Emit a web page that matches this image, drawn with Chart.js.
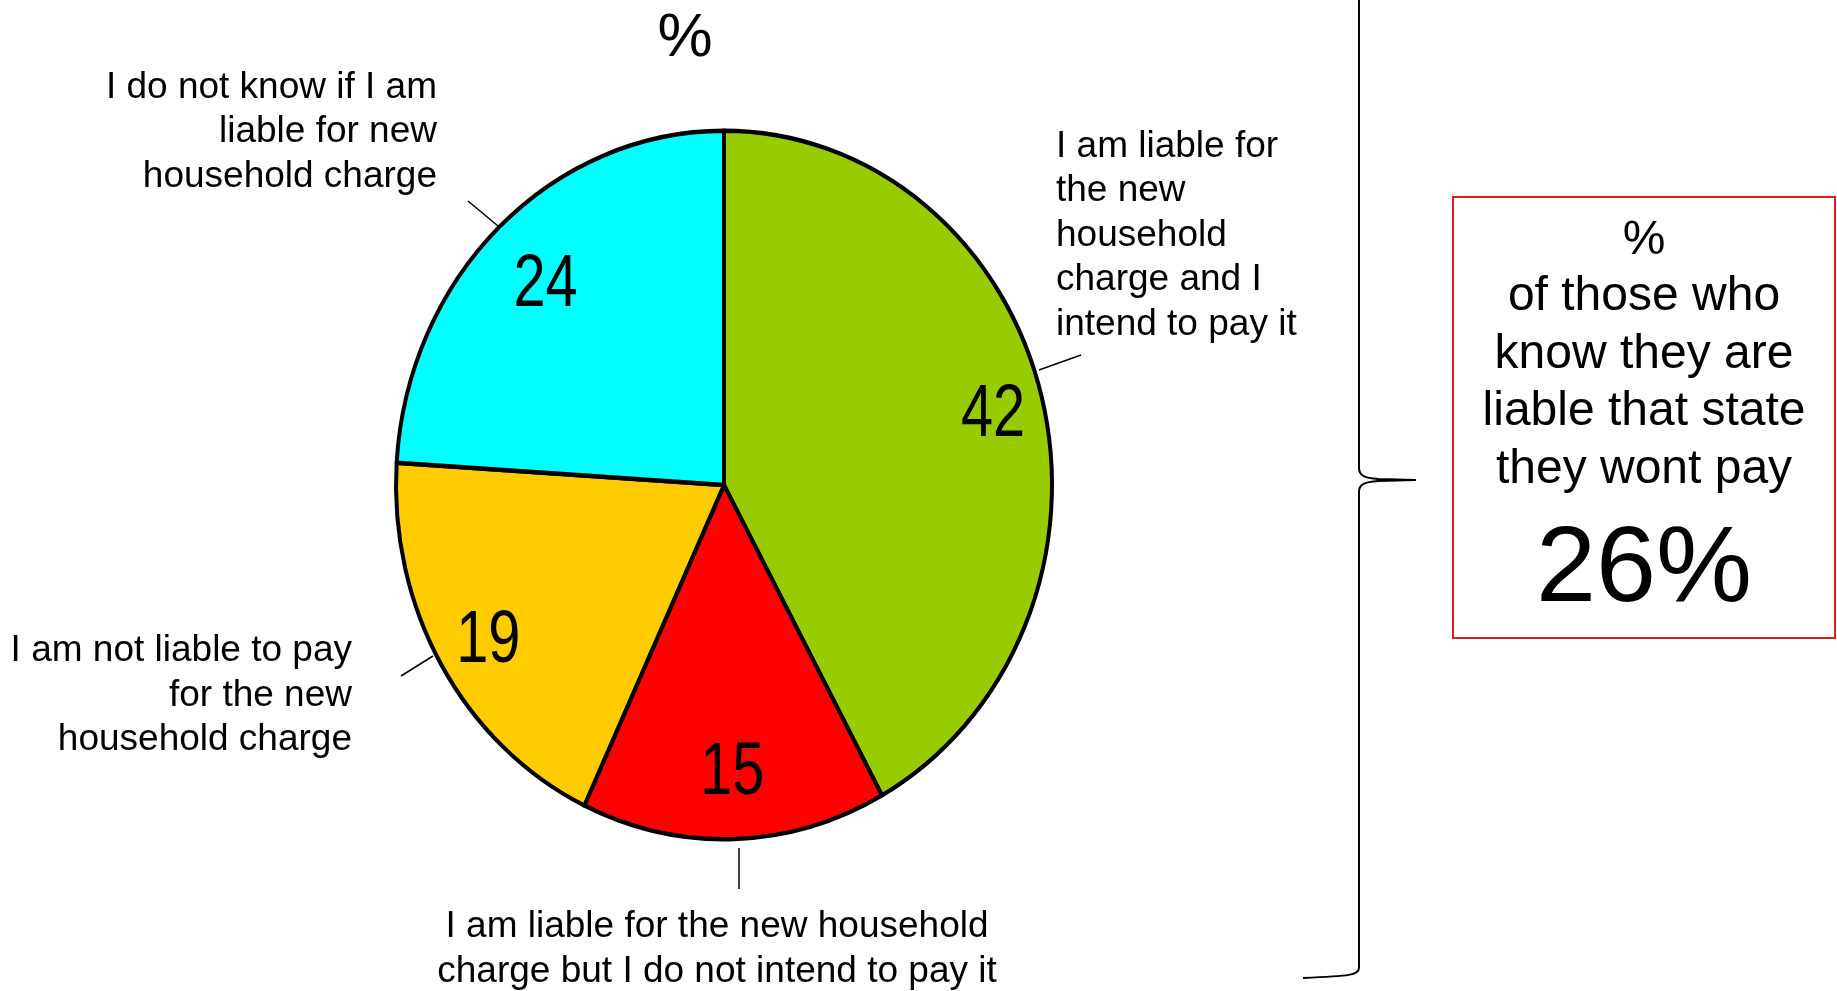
<!DOCTYPE html>
<html>
<head>
<meta charset="utf-8">
<script src="https://cdn.jsdelivr.net/npm/chart.js@4.4.0/dist/chart.umd.min.js"></script>
<style>
  html, body { margin: 0; padding: 0; background: #fff; }
  canvas { display: block; }
</style>
</head>
<body>
<canvas id="liabilityPie" width="1837" height="991"></canvas>
<script>
const categories = [
  "I am liable for the new household charge and I intend to pay it",
  "I am liable for the new household charge but I do not intend to pay it",
  "I am not liable to pay for the new household charge",
  "I do not know if I am liable for new household charge",
];
const shares = [42, 15, 19, 24];
const sliceColours = ["#99CC00", "#FF0000", "#FFCC00", "#00FFFF"];
// category text, wrapped the way the original slide wraps it
const labelLines = [
  ["I am liable for", "the new", "household", "charge and I", "intend to pay it"],
  ["I am liable for the new household", "charge but I do not intend to pay it"],
  ["I am not liable to pay", "for the new", "household charge"],
  ["I do not know if I am", "liable for new", "household charge"],
];
const boxLines = ["%", "of those who", "know they are", "liable that state", "they wont pay"];
const wontPayShare = 26;

const FONT = '"Liberation Sans", Arial, Helvetica, sans-serif';
const STRETCH_Y = 1.08; // the slide's pie is a bit taller than wide

// where the value sits inside each slice, as a fraction of the radius
const valueRadius = [0.847, 0.80, 0.835, 0.795];

// callout text blocks and their leader lines
const labelBlocks = [
  { x: 1056, y: 156.5, align: "left" },
  { x: 717, y: 937, align: "center" },
  { x: 352, y: 661, align: "right" },
  { x: 437, y: 97.5, align: "right" },
];
const leaders = [
  [[1039, 370], [1081, 355]],
  [[739, 848], [739, 889]],
  [[433, 656], [401, 676]],
  [[498, 226], [468, 201]],
];

const stretchPie = {
  id: "stretchPie",
  beforeDatasetsDraw(chart) {
    const arc = chart.getDatasetMeta(0).data[0];
    const ctx = chart.ctx;
    ctx.save();
    ctx.translate(arc.x, arc.y);
    ctx.scale(1, STRETCH_Y);
    ctx.translate(-arc.x, -arc.y);
  },
  afterDatasetsDraw(chart) {
    chart.ctx.restore();
  },
};

const annotate = {
  id: "annotate",
  afterDraw(chart) {
    const ctx = chart.ctx;
    const arcs = chart.getDatasetMeta(0).data;
    ctx.save();
    ctx.fillStyle = "#000";
    ctx.strokeStyle = "#000";

    // values inside the slices (narrow type in the original)
    arcs.forEach((arc, i) => {
      const mid = (arc.startAngle + arc.endAngle) / 2;
      const r = arc.outerRadius * valueRadius[i];
      const x = arc.x + Math.cos(mid) * r;
      const y = arc.y + Math.sin(mid) * r * STRETCH_Y;
      ctx.save();
      ctx.translate(x, y + 26);
      ctx.scale(0.78, 1);
      ctx.font = "74px " + FONT;
      ctx.textAlign = "center";
      ctx.textBaseline = "alphabetic";
      ctx.fillText(String(shares[i]), 0, 0);
      ctx.restore();
    });

    // leaders
    ctx.lineWidth = 1.5;
    leaders.forEach(([a, b]) => {
      ctx.beginPath();
      ctx.moveTo(a[0], a[1]);
      ctx.lineTo(b[0], b[1]);
      ctx.stroke();
    });

    // category labels
    ctx.font = "37px " + FONT;
    ctx.textBaseline = "alphabetic";
    labelBlocks.forEach((blk, i) => {
      ctx.textAlign = blk.align;
      labelLines[i].forEach((line, j) => {
        ctx.fillText(line, blk.x, blk.y + j * 44.5);
      });
    });

    // unit at the top
    ctx.textAlign = "center";
    ctx.font = "62px " + FONT;
    ctx.fillText("%", 685, 56);

    // brace
    ctx.lineWidth = 2;
    ctx.beginPath();
    ctx.moveTo(1359, -5);
    ctx.lineTo(1359, 468);
    ctx.bezierCurveTo(1359, 476, 1365, 478, 1378, 479);
    ctx.lineTo(1416, 480);
    ctx.lineTo(1378, 481);
    ctx.bezierCurveTo(1365, 482, 1359, 484, 1359, 492);
    ctx.lineTo(1359, 968);
    ctx.bezierCurveTo(1359, 975, 1350, 976, 1303, 978);
    ctx.stroke();

    // summary box
    ctx.strokeStyle = "#D42020";
    ctx.lineWidth = 2;
    ctx.strokeRect(1453, 197, 382, 441);
    ctx.font = "48px " + FONT;
    const boxBase = [254, 310, 368, 425, 483];
    boxLines.forEach((line, j) => ctx.fillText(line, 1644, boxBase[j]));
    ctx.font = "108px " + FONT;
    ctx.fillText(wontPayShare + "%", 1644, 601);

    ctx.restore();
  },
};

new Chart(document.getElementById("liabilityPie"), {
  type: "pie",
  data: {
    labels: categories,
    datasets: [{
      data: shares,
      backgroundColor: sliceColours,
      borderColor: "#000",
      borderWidth: 4,
      borderJoinStyle: "round",
      hoverOffset: 0,
      radius: 328,
    }],
  },
  options: {
    responsive: false,
    animation: false,
    radius: 328,
    layout: { padding: { left: 324, right: 713, top: 85, bottom: 106 } },
    plugins: {
      legend: { display: false },
      tooltip: { enabled: false },
    },
  },
  plugins: [stretchPie, annotate],
});
</script>
</body>
</html>
